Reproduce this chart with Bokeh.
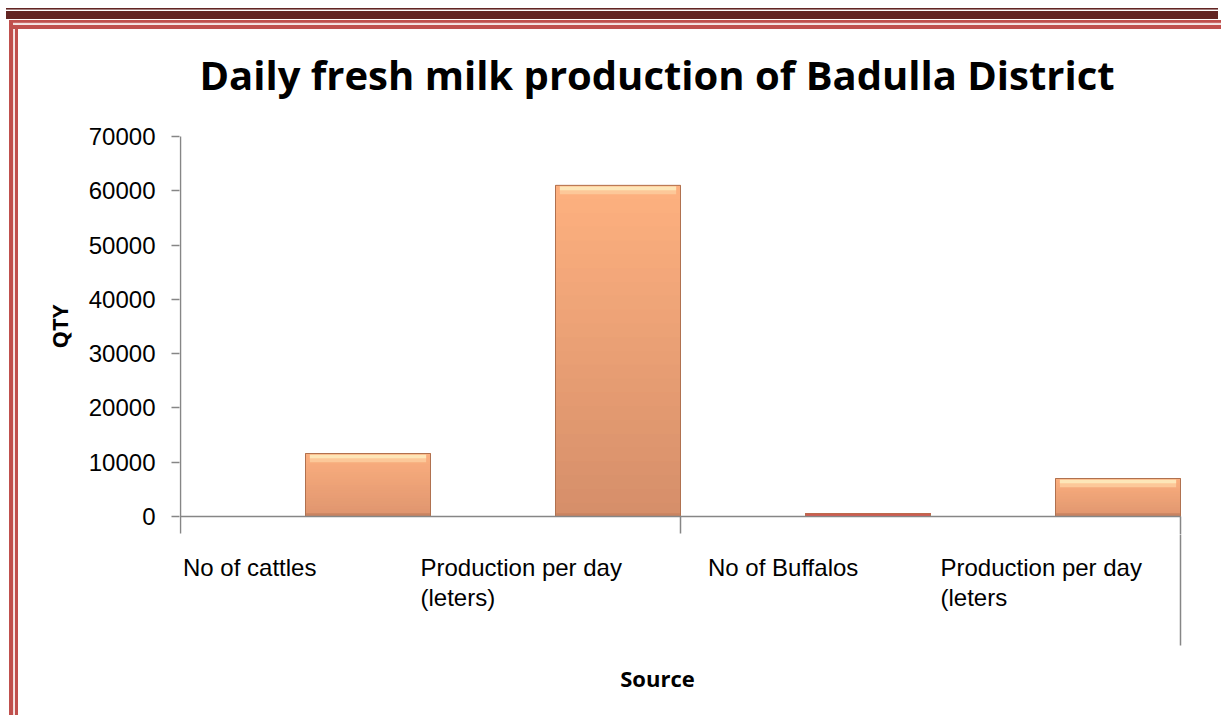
from bokeh.plotting import figure
from bokeh.models import FixedTicker, Range1d
from bokeh.layouts import column
from bokeh.embed import file_html
from bokeh.resources import INLINE

# ---- data ----
categories = ["No of cattles", "Production per day\n(leters)", "No of Buffalos", "Production per day\n(leters"]
values = [11600, 61000, 500, 7000]
y_ticks = [0, 10000, 20000, 30000, 40000, 50000, 60000, 70000]
title_text = "Daily fresh milk production of Badulla District"
y_label = "QTY"
x_label = "Source"

# ---- style / layout ----
bar_top_colors = ["#fbaf7f", "#fdb07f", "#d9574f", "#fbaf7f"]
bar_bottom_colors = ["#df956f", "#d68f6a", "#d9574f", "#e0966f"]
AXIS = "#868686"

W, H = 1221, 715
FRAME_L, FRAME_R, FRAME_T = 179, 1183, 118
SPLIT = 534                       # page row where the chart figure ends
TOP_Y = 136                       # pixel row of value 70000
ZERO_Y = 516                      # pixel row of value 0
PX_PER_UNIT_Y = (ZERO_Y - TOP_Y) / 70000.0
PX_PER_CAT = 250.0
X0 = 180                          # pixel column of x = 0

def px2y(py):                     # page pixel row -> data y
    return (ZERO_Y - py) / PX_PER_UNIT_Y

def px2x(px):
    return (px - X0) / PX_PER_CAT

x_range = Range1d(px2x(FRAME_L), px2x(FRAME_R))

p = figure(width=W, height=SPLIT, x_range=x_range,
           y_range=Range1d(px2y(SPLIT), px2y(FRAME_T)),
           x_axis_location=None,
           output_backend="svg", toolbar_location=None,
           min_border_left=FRAME_L, min_border_right=W - FRAME_R,
           min_border_top=FRAME_T, min_border_bottom=0)
p2 = figure(width=W, height=H - SPLIT, x_range=x_range,
            y_range=Range1d(px2y(H), px2y(SPLIT)),
            x_axis_location=None, y_axis_location=None,
            output_backend="svg", toolbar_location=None,
            min_border_left=FRAME_L, min_border_right=W - FRAME_R,
            min_border_top=0, min_border_bottom=0)
for f in (p, p2):
    f.xgrid.visible = False
    f.ygrid.visible = False
    f.outline_line_color = None
    f.background_fill_color = None
    f.border_fill_color = None

# title
p.title.text = title_text
p.title.text_font = "Open Sans"
p.title.text_font_style = "bold"
p.title.text_font_size = "40px"
p.title.text_color = "black"
p.title.align = "left"
p.title.offset = 20
p.title.standoff = 33

# y axis
ya = p.yaxis[0]
ya.ticker = FixedTicker(ticks=y_ticks)
ya.axis_line_color = None
ya.major_tick_line_color = AXIS
ya.major_tick_line_width = 1.5
ya.major_tick_out = 8
ya.major_tick_in = 0
ya.minor_tick_line_color = None
ya.major_label_standoff = 16
ya.major_label_text_font = "Liberation Sans"
ya.major_label_text_font_size = "24px"
ya.major_label_text_color = "black"
ya.axis_label = y_label
ya.axis_label_text_font = "Open Sans"
ya.axis_label_text_font_style = "bold"
ya.axis_label_text_font_size = "22px"
ya.axis_label_text_color = "black"
ya.axis_label_standoff = 12

# ---- bars: overlapping vertical shading bands ----
def hex2rgb(h):
    h = h.lstrip("#")
    return tuple(int(h[i:i + 2], 16) for i in (0, 2, 4))

def mix(c1, c2, t):
    a, b = hex2rgb(c1), hex2rgb(c2)
    return "#%02x%02x%02x" % tuple(int(round(a[i] + (b[i] - a[i]) * t)) for i in range(3))

n_bands = 24
bar_w = 0.5
xs = [i + 0.75 for i in range(len(values))]
bx, bbot, btop, bcol = [], [], [], []
for i, v in enumerate(values):
    for k in range(n_bands):
        bx.append(xs[i])
        bbot.append(v * k / n_bands)
        btop.append(v)
        bcol.append(mix(bar_bottom_colors[i], bar_top_colors[i], k / (n_bands - 1)))
p.vbar(x=bx, bottom=bbot, top=btop, width=bar_w, fill_color=bcol, line_color=None)

# bevel highlight at the top of each bar and darker rim at the base
hl = 4 / PX_PER_UNIT_Y
hx, hb, ht, hc = [], [], [], []
for i, v in enumerate(values):
    if v > 4 * hl:
        hx.append(xs[i]); hb.append(v - 2.2 * hl); ht.append(v - hl * 0.3); hc.append(mix("#fde6b8", bar_top_colors[i], 0.55))
        hx.append(xs[i]); hb.append(v - 1.2 * hl); ht.append(v - hl * 0.3); hc.append("#fde6b8")
p.vbar(x=hx, bottom=hb, top=ht, width=bar_w * 0.93, fill_color=hc, line_color=None)
rx, rt = [], []
for i, v in enumerate(values):
    if v > 4 * hl:
        rx.append(xs[i]); rt.append(hl * 0.8)
p.vbar(x=rx, bottom=0, top=rt, width=bar_w, fill_color="#c98361", line_color=None)
p.vbar(x=xs, top=values, width=bar_w, fill_color=None, line_color="#b0714f", line_width=1)

# ---- axis lines drawn through the scales (clipped per figure) ----
tick_len = 17 / PX_PER_UNIT_Y
seg = dict(x0=[0, 0, 2, 4], y0=[70000, 0, 0, 0],
           x1=[0, 4, 2, 4], y1=[-tick_len, 0, -tick_len, px2y(645)])
p.segment(line_color=AXIS, line_width=1.5, **seg)
p2.segment(line_color=AXIS, line_width=1.5, **seg)

# ---- category labels (left aligned, wrapped lines) ----
label_x = [0.01, 0.96, 2.11, 3.04]
tx, ty, tt = [], [], []
for i, cat in enumerate(categories):
    for j, line in enumerate(cat.split("\n")):
        tx.append(label_x[i]); ty.append(px2y(567 + 30 * j)); tt.append(line)
p2.text(x=tx, y=ty, text=tt, text_font={"value": "Liberation Sans"}, text_font_size="24px",
        text_color="black", text_align="left", text_baseline="alphabetic")

# x axis title
p2.text(x=[px2x(657)], y=[px2y(677)], text=[x_label], text_font={"value": "Open Sans"},
        text_font_style="bold", text_font_size="22px", text_color="black",
        text_align="center", text_baseline="middle")

# page border decoration (CSS background behind the transparent canvases)
layers = [
    ("#632523", 6, 8, 1212, 1.6),
    ("#632523", 6, 11, 1212, 8),
    ("#c0504d", 10, 19.5, 1211, 2.8),
    ("#f2dcdb", 13, 22.3, 1208, 2.7),
    ("#c0504d", 13, 25, 1208, 4),
    ("#c0504d", 9, 20, 4.3, 695),
    ("#f2dcdb", 13.3, 23, 1.7, 692),
    ("#c0504d", 15, 25, 3, 690),
]
bg = ", ".join("linear-gradient(%s,%s) %spx %spx / %spx %spx no-repeat" % (c, c, x, y, w, h)
               for c, x, y, w, h in layers)
layout = column(p, p2, spacing=0, width=W, height=H)
layout.styles = {"background": bg + ", white"}

open("out.html", "w").write(file_html(layout, INLINE))
